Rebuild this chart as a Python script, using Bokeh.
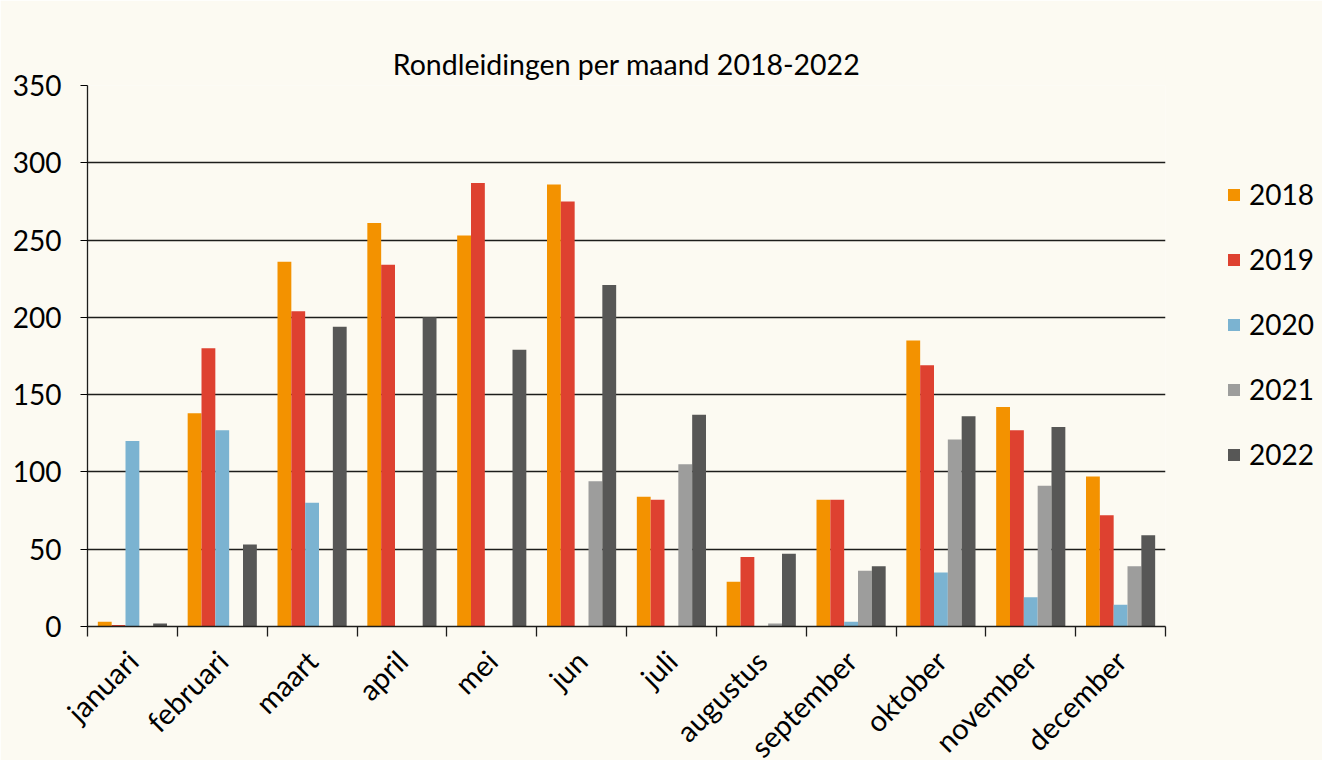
from bokeh.plotting import figure
from bokeh.models import ColumnDataSource, FixedTicker, Legend, LegendItem
from bokeh.transform import dodge
from bokeh.embed import file_html
from bokeh.resources import INLINE
import math

months = ["januari", "februari", "maart", "april", "mei", "jun", "juli",
          "augustus", "september", "oktober", "november", "december"]
years = ["2018", "2019", "2020", "2021", "2022"]
v2018 = [3, 138, 236, 261, 253, 286, 84, 29, 82, 185, 142, 97]
v2019 = [1, 180, 204, 234, 287, 275, 82, 45, 82, 169, 127, 72]
v2020 = [120, 127, 80, 0, 0, 0, 0, 0, 3, 35, 19, 14]
v2021 = [0, 0, 0, 0, 0, 94, 105, 2, 36, 121, 91, 39]
v2022 = [2, 53, 194, 200, 179, 221, 137, 47, 39, 136, 129, 59]
colors = ["#F39200", "#DE4130", "#7BB3D1", "#9D9D9C", "#575756"]
yticks = [0, 50, 100, 150, 200, 250, 300, 350]

FONT = "Lato"
BG = "#FCFAF2"
FW, FH = 1078, 541

centers = [i + 0.5 for i in range(len(months))]
bounds = [i for i in range(len(months) + 1)]
src = ColumnDataSource(dict(x=centers, y2018=v2018, y2019=v2019, y2020=v2020,
                            y2021=v2021, y2022=v2022))

p = figure(frame_width=FW, frame_height=FH, output_backend="svg", toolbar_location=None,
           x_range=(0, 12), y_range=(0, 350),
           min_border_left=87, min_border_right=157, min_border_top=85, min_border_bottom=134,
           background_fill_color=BG, border_fill_color=BG, outline_line_color=None)

bw = 0.154
items = []
for j, (yr, col) in enumerate(zip(years, colors)):
    r = p.vbar(x=dodge("x", (j - 2) * bw, range=p.x_range), top="y" + yr, width=bw,
               source=src, fill_color=col, line_color=None)
    items.append(LegendItem(label=yr, renderers=[r]))

p.title.text = "Rondleidingen per maand 2018-2022"
p.title.align = "center"
p.title.vertical_align = "bottom"
p.title.text_font = FONT
p.title.text_font_size = "28.5px"
p.title.text_font_style = "normal"
p.title.text_color = "#000000"
p.title.text_line_height = 2.0
p.title.standoff = 10

p.xgrid.visible = False
p.ygrid.grid_line_color = "#1d1d1b"
p.ygrid.grid_line_width = 1.3
p.ygrid.ticker = FixedTicker(ticks=yticks)

p.yaxis.ticker = FixedTicker(ticks=yticks)
p.yaxis.axis_line_color = "#1d1d1b"
p.yaxis.axis_line_width = 1.3
p.yaxis.major_tick_in = 0
p.yaxis.major_tick_out = 7
p.yaxis.minor_tick_line_color = None
p.yaxis.major_label_text_font = FONT
p.yaxis.major_label_text_font_size = "28px"
p.yaxis.major_label_text_color = "#000000"
p.yaxis.major_label_standoff = 19

p.xaxis.ticker = FixedTicker(ticks=centers, minor_ticks=bounds)
p.xaxis.major_label_overrides = {c: m for c, m in zip(centers, months)}
p.xaxis.major_tick_line_color = None
p.xaxis.minor_tick_in = 0
p.xaxis.minor_tick_out = 10
p.xaxis.minor_tick_line_color = "#1d1d1b"
p.xaxis.minor_tick_line_width = 1.3
p.xaxis.axis_line_color = "#1d1d1b"
p.xaxis.axis_line_width = 1.3
p.xaxis.major_label_orientation = math.pi / 4
p.xaxis.major_label_text_font = FONT
p.xaxis.major_label_text_font_size = "29px"
p.xaxis.major_label_text_color = "#000000"
p.xaxis.major_label_standoff = 19

legend = Legend(items=items, location=(61, 155), orientation="vertical",
                glyph_width=15, glyph_height=15, label_standoff=8,
                label_text_font=FONT, label_text_font_size="28px",
                label_text_color="#000000",
                label_height=29, spacing=31, padding=0, margin=0,
                border_line_color=None, background_fill_alpha=0)
p.add_layout(legend, "right")

open("out.html", "w").write(file_html(p, INLINE))
